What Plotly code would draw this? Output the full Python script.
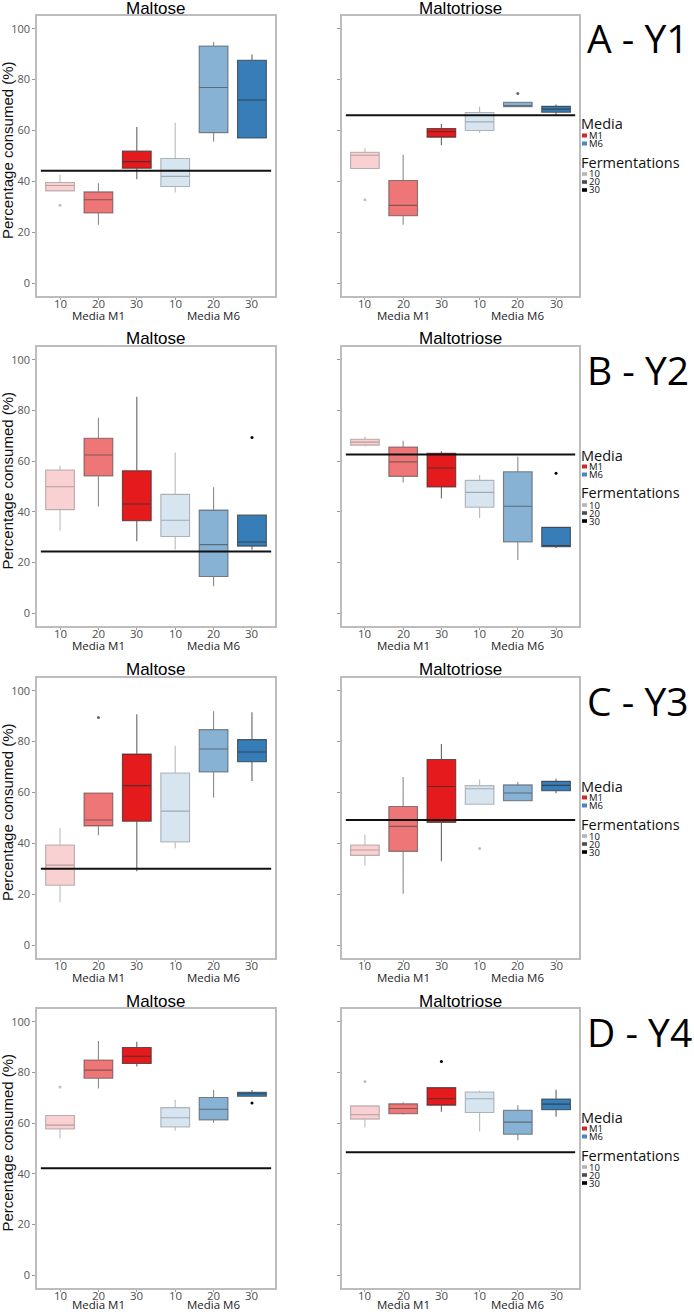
import plotly.graph_objects as go

# ---------------- data ----------------
FERMENTATIONS = ["10", "20", "30", "10", "20", "30"]
MEDIA = ["M1", "M1", "M1", "M6", "M6", "M6"]
MEDIA_LABELS = ["Media M1", "Media M6"]
SUGARS = ["Maltose", "Maltotriose"]
ROW_LABELS = ["A - Y1", "B - Y2", "C - Y3", "D - Y4"]
Y_TICKS = [0, 20, 40, 60, 80, 100]

# A - Y1 Maltose
A_MALTOSE_LO = [36.3, 23.0, 40.9, 35.7, 55.6, 57.1]
A_MALTOSE_Q1 = [36.3, 27.6, 45.2, 38.0, 59.2, 57.1]
A_MALTOSE_MED = [38.4, 32.8, 47.8, 42.0, 76.9, 72.0]
A_MALTOSE_Q3 = [39.6, 35.9, 51.9, 49.0, 93.2, 87.6]
A_MALTOSE_HI = [42.6, 39.3, 61.4, 63.1, 94.8, 89.9]
A_MALTOSE_OUT = [(0, 30.7)]
A_MALTOSE_REF = 44.2
# A - Y1 Maltotriose
A_MALTOTRIOSE_LO = [45.1, 23.0, 54.2, 59.0, 69.2, 66.1]
A_MALTOTRIOSE_Q1 = [45.1, 26.5, 57.4, 60.0, 69.4, 67.2]
A_MALTOTRIOSE_MED = [50.3, 30.6, 59.5, 63.4, 69.7, 68.4]
A_MALTOTRIOSE_Q3 = [51.5, 40.4, 60.8, 67.1, 71.1, 69.5]
A_MALTOTRIOSE_HI = [53.1, 50.5, 62.6, 69.4, 71.1, 70.2]
A_MALTOTRIOSE_OUT = [(0, 32.8), (4, 74.6)]
A_MALTOTRIOSE_REF = 66.0

# B - Y2 Maltose
B_MALTOSE_LO = [32.7, 42.1, 28.4, 25.2, 10.7, 25.1]
B_MALTOSE_Q1 = [40.9, 54.2, 36.5, 30.3, 14.5, 26.5]
B_MALTOSE_MED = [49.9, 62.4, 43.1, 36.7, 27.1, 28.1]
B_MALTOSE_Q3 = [56.5, 69.0, 56.2, 46.9, 40.7, 38.7]
B_MALTOSE_HI = [58.2, 77.1, 85.4, 63.4, 49.7, 38.7]
B_MALTOSE_OUT = [(5, 69.3)]
B_MALTOSE_REF = 24.4
# B - Y2 Maltotriose
B_MALTOTRIOSE_LO = [65.8, 51.6, 45.4, 37.6, 21.0, 25.8]
B_MALTOTRIOSE_Q1 = [66.3, 54.0, 49.8, 41.8, 28.1, 26.3]
B_MALTOTRIOSE_MED = [67.5, 59.7, 57.3, 47.7, 42.2, 26.6]
B_MALTOTRIOSE_Q3 = [68.6, 65.6, 63.1, 52.4, 55.8, 33.9]
B_MALTOTRIOSE_HI = [69.7, 68.0, 63.9, 54.5, 61.7, 33.9]
B_MALTOTRIOSE_OUT = [(5, 55.2)]
B_MALTOTRIOSE_REF = 62.6

# C - Y3 Maltose
C_MALTOSE_LO = [16.9, 43.2, 29.1, 38.1, 58.0, 64.5]
C_MALTOSE_Q1 = [23.6, 46.9, 48.7, 40.6, 68.1, 72.1]
C_MALTOSE_MED = [31.5, 49.2, 62.7, 52.7, 77.1, 75.9]
C_MALTOSE_Q3 = [39.4, 59.8, 75.1, 67.7, 84.7, 80.8]
C_MALTOSE_HI = [46.1, 59.8, 90.8, 78.4, 91.9, 91.5]
C_MALTOSE_OUT = [(1, 89.5)]
C_MALTOSE_REF = 30.1
# C - Y3 Maltotriose
C_MALTOTRIOSE_LO = [31.3, 20.2, 33.0, 55.4, 56.7, 59.7]
C_MALTOTRIOSE_Q1 = [35.3, 36.9, 48.3, 55.4, 56.8, 60.7]
C_MALTOTRIOSE_MED = [37.4, 46.7, 62.4, 61.5, 59.8, 62.8]
C_MALTOTRIOSE_Q3 = [39.4, 54.5, 73.0, 62.7, 63.0, 64.4]
C_MALTOTRIOSE_HI = [43.5, 66.1, 79.1, 65.1, 64.1, 65.4]
C_MALTOTRIOSE_OUT = [(3, 38.0)]
C_MALTOTRIOSE_REF = 49.2

# D - Y4 Maltose
D_MALTOSE_LO = [54.0, 73.7, 82.3, 57.1, 60.2, 70.6]
D_MALTOSE_Q1 = [57.7, 77.7, 83.5, 58.5, 61.3, 70.6]
D_MALTOSE_MED = [59.2, 80.9, 86.4, 62.1, 65.5, 71.6]
D_MALTOSE_Q3 = [63.0, 84.9, 89.8, 66.1, 70.1, 72.2]
D_MALTOSE_HI = [63.0, 92.4, 92.1, 69.2, 73.1, 73.1]
D_MALTOSE_OUT = [(0, 74.2), (5, 67.9)]
D_MALTOSE_REF = 42.2
# D - Y4 Maltotriose
D_MALTOTRIOSE_LO = [58.3, 63.3, 64.5, 56.7, 53.3, 62.5]
D_MALTOTRIOSE_Q1 = [61.6, 63.7, 67.1, 64.2, 55.6, 65.3]
D_MALTOTRIOSE_MED = [63.3, 65.8, 69.6, 69.6, 60.4, 67.5]
D_MALTOTRIOSE_Q3 = [66.8, 67.6, 74.0, 72.3, 65.1, 69.5]
D_MALTOTRIOSE_HI = [66.8, 68.2, 74.0, 72.9, 67.1, 73.2]
D_MALTOTRIOSE_OUT = [(0, 76.4), (2, 84.3)]
D_MALTOTRIOSE_REF = 48.5

PANELS = [
    [(A_MALTOSE_LO, A_MALTOSE_Q1, A_MALTOSE_MED, A_MALTOSE_Q3, A_MALTOSE_HI, A_MALTOSE_OUT, A_MALTOSE_REF),
     (A_MALTOTRIOSE_LO, A_MALTOTRIOSE_Q1, A_MALTOTRIOSE_MED, A_MALTOTRIOSE_Q3, A_MALTOTRIOSE_HI, A_MALTOTRIOSE_OUT, A_MALTOTRIOSE_REF)],
    [(B_MALTOSE_LO, B_MALTOSE_Q1, B_MALTOSE_MED, B_MALTOSE_Q3, B_MALTOSE_HI, B_MALTOSE_OUT, B_MALTOSE_REF),
     (B_MALTOTRIOSE_LO, B_MALTOTRIOSE_Q1, B_MALTOTRIOSE_MED, B_MALTOTRIOSE_Q3, B_MALTOTRIOSE_HI, B_MALTOTRIOSE_OUT, B_MALTOTRIOSE_REF)],
    [(C_MALTOSE_LO, C_MALTOSE_Q1, C_MALTOSE_MED, C_MALTOSE_Q3, C_MALTOSE_HI, C_MALTOSE_OUT, C_MALTOSE_REF),
     (C_MALTOTRIOSE_LO, C_MALTOTRIOSE_Q1, C_MALTOTRIOSE_MED, C_MALTOTRIOSE_Q3, C_MALTOTRIOSE_HI, C_MALTOTRIOSE_OUT, C_MALTOTRIOSE_REF)],
    [(D_MALTOSE_LO, D_MALTOSE_Q1, D_MALTOSE_MED, D_MALTOSE_Q3, D_MALTOSE_HI, D_MALTOSE_OUT, D_MALTOSE_REF),
     (D_MALTOTRIOSE_LO, D_MALTOTRIOSE_Q1, D_MALTOTRIOSE_MED, D_MALTOTRIOSE_Q3, D_MALTOTRIOSE_HI, D_MALTOTRIOSE_OUT, D_MALTOTRIOSE_REF)],
]

# ---------------- styling ----------------
W, H = 694, 1312
BASE = {"M1": (228, 26, 28), "M6": (55, 126, 184)}
ALPHA = {"10": 0.2, "20": 0.6, "30": 1.0}
EDGE = {"10": "rgba(60,60,60,0.35)", "20": "rgba(60,60,60,0.6)", "30": "rgba(50,50,50,0.75)"}
OUTCOL = {"10": "rgba(0,0,0,0.25)", "20": "rgba(0,0,0,0.6)", "30": "rgba(0,0,0,1)"}
ROW_TOP = [16, 347, 678, 1009]
ROW_BOT = [296, 626, 958, 1288]
COL_X = [(37, 275), (342, 579)]

def fx(p):
    return p / W

def fy(p):
    return 1 - p / H

def fill(m, f):
    r, g, b = BASE[m]
    a = ALPHA[f]
    return "rgb(%d,%d,%d)" % (round(255 - a * (255 - r)), round(255 - a * (255 - g)), round(255 - a * (255 - b)))

fig = go.Figure()
annotations = []
shapes = []

for r in range(4):
    for c in range(2):
        idx = r * 2 + c + 1
        xa = "x" if idx == 1 else "x%d" % idx
        ya = "y" if idx == 1 else "y%d" % idx
        lo, q1, med, q3, hi, outs, ref = PANELS[r][c]
        for i in range(6):
            f, m = FERMENTATIONS[i], MEDIA[i]
            fig.add_trace(go.Box(
                x=[i], lowerfence=[lo[i]], q1=[q1[i]], median=[med[i]], q3=[q3[i]], upperfence=[hi[i]],
                width=0.75, fillcolor=fill(m, f), line=dict(color=EDGE[f], width=1.1),
                boxpoints=False, whiskerwidth=0, xaxis=xa, yaxis=ya, showlegend=False, hoverinfo="skip"))
        if outs:
            fig.add_trace(go.Scatter(
                x=[o[0] for o in outs], y=[o[1] for o in outs], mode="markers",
                marker=dict(size=3, color=[OUTCOL[FERMENTATIONS[o[0]]] for o in outs]),
                xaxis=xa, yaxis=ya, showlegend=False, hoverinfo="skip"))
        fig.add_trace(go.Scatter(
            x=[-0.5, 5.5], y=[ref, ref], mode="lines", line=dict(color="#111", width=2),
            xaxis=xa, yaxis=ya, showlegend=False, hoverinfo="skip"))

        x0, x1 = COL_X[c]
        t, b = ROW_TOP[r], ROW_BOT[r]
        axkey = "xaxis" if idx == 1 else "xaxis%d" % idx
        aykey = "yaxis" if idx == 1 else "yaxis%d" % idx
        fig.layout[axkey] = dict(
            domain=[fx(x0), fx(x1)], range=[-0.6, 5.6], anchor=ya,
            tickmode="array", tickvals=list(range(6)), showticklabels=False,
            ticks="outside", ticklen=2, tickcolor="#9a9a9a",
            showline=True, mirror=True, linecolor="#bdbdbd", linewidth=1.5,
            showgrid=False, zeroline=False, fixedrange=True)
        fig.layout[aykey] = dict(
            domain=[fy(b), fy(t)], range=[-5, 105], anchor=xa,
            tickmode="array", tickvals=Y_TICKS, showticklabels=(c == 0),
            ticks="outside", ticklen=3, tickcolor="#9a9a9a",
            tickfont=dict(family="Open Sans", size=11, color="#555"),
            showline=True, mirror=True, linecolor="#bdbdbd", linewidth=1.5,
            showgrid=False, zeroline=False, fixedrange=True)

        # panel title
        annotations.append(dict(text=SUGARS[c], x=fx((x0 + x1) / 2), y=fy(t - 8), xref="paper", yref="paper",
                                showarrow=False, xanchor="center", yanchor="middle", borderpad=0,
                                font=dict(family="Liberation Sans", size=17, color="#000")))
        # category tick labels
        for i in range(6):
            annotations.append(dict(text=FERMENTATIONS[i], x=i, xref=xa, y=fy(b + 7.5), yref="paper",
                                    showarrow=False, xanchor="center", yanchor="middle", borderpad=0,
                                    font=dict(family="Open Sans", size=11.5, color="#4d4d4d")))
        # media group labels
        my = min(b + 19, H - 7.5)
        for gi, gname in zip([1, 4], MEDIA_LABELS):
            annotations.append(dict(text=gname, x=gi, xref=xa, y=fy(my), yref="paper",
                                    showarrow=False, xanchor="center", yanchor="middle", borderpad=0,
                                    font=dict(family="Open Sans", size=11.5, color="#222")))
        if c == 0:
            annotations.append(dict(text="Percentage consumed (%)", x=fx(7), y=fy((t + b) / 2 - 6),
                                    xref="paper", yref="paper", showarrow=False, textangle=-90,
                                    xanchor="center", yanchor="middle", borderpad=0,
                                    font=dict(family="Liberation Sans", size=15, color="#111")))

    # row label
    t = ROW_TOP[r]
    annotations.append(dict(text=ROW_LABELS[r], x=fx(585), y=fy(t + 22), xref="paper", yref="paper",
                            showarrow=False, xanchor="left", yanchor="middle",
                            font=dict(family="Open Sans", size=39, color="#000")))
    # legend
    lx = 580
    annotations.append(dict(text="Media", x=fx(lx), y=fy(t + 108), xref="paper", yref="paper",
                            showarrow=False, xanchor="left", yanchor="middle", borderpad=0,
                            font=dict(family="Open Sans", size=14.5, color="#111")))
    for k, (name, col) in enumerate([("M1", "#d1272d"), ("M6", "#4a86be")]):
        yy = t + 119.5 + k * 8
        shapes.append(dict(type="rect", xref="paper", yref="paper", x0=fx(582), x1=fx(587),
                           y0=fy(yy + 2), y1=fy(yy - 2), fillcolor=col, line=dict(width=0)))
        annotations.append(dict(text=name, x=fx(588), y=fy(yy), xref="paper", yref="paper",
                                showarrow=False, xanchor="left", yanchor="middle", borderpad=0,
                                font=dict(family="Open Sans", size=9.5, color="#111")))
    annotations.append(dict(text="Fermentations", x=fx(lx), y=fy(t + 146), xref="paper", yref="paper",
                            showarrow=False, xanchor="left", yanchor="middle", borderpad=0,
                            font=dict(family="Open Sans", size=14.5, color="#111")))
    for k, (name, col) in enumerate([("10", "#b5b5b5"), ("20", "#4d4d4d"), ("30", "#000000")]):
        yy = t + 158 + k * 8
        shapes.append(dict(type="rect", xref="paper", yref="paper", x0=fx(582), x1=fx(587),
                           y0=fy(yy + 1.8), y1=fy(yy - 1.8), fillcolor=col, line=dict(width=0)))
        annotations.append(dict(text=name, x=fx(588), y=fy(yy), xref="paper", yref="paper",
                                showarrow=False, xanchor="left", yanchor="middle", borderpad=0,
                                font=dict(family="Open Sans", size=9.5, color="#111")))

fig.update_layout(
    width=W, height=H, margin=dict(l=0, r=0, t=0, b=0),
    paper_bgcolor="white", plot_bgcolor="white",
    boxmode="overlay", annotations=annotations, shapes=shapes, showlegend=False)

fig.write_html("out.html", config={"displayModeBar": False},
               post_script="document.body.style.margin='0px';document.body.style.overflow='hidden';")
